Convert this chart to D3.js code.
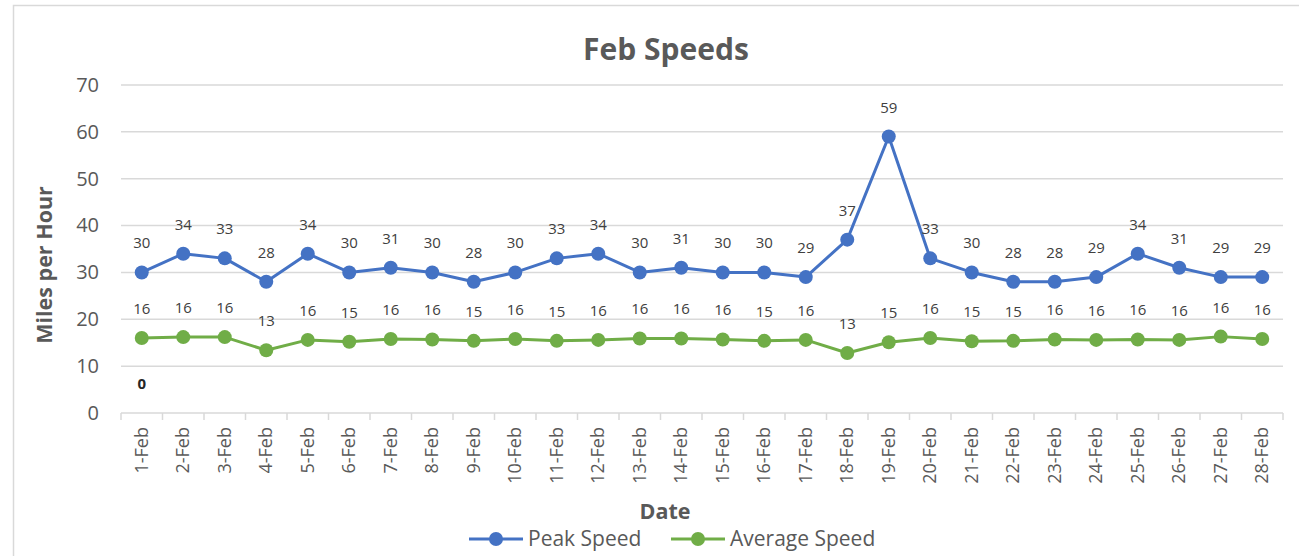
<!DOCTYPE html>
<html>
<head>
<meta charset="utf-8">
<script src="https://cdn.jsdelivr.net/npm/d3@7"></script>
<style>
  body { margin: 0; background: #fff; }
  text { font-family: "Open Sans", "Noto Sans", sans-serif; }
</style>
</head>
<body>
<div id="chart"></div>
<script>
/**
 * Chart data
 */
// dates on the x axis
var dates = ["1-Feb","2-Feb","3-Feb","4-Feb","5-Feb","6-Feb","7-Feb","8-Feb","9-Feb","10-Feb",
  "11-Feb","12-Feb","13-Feb","14-Feb","15-Feb","16-Feb","17-Feb","18-Feb","19-Feb","20-Feb",
  "21-Feb","22-Feb","23-Feb","24-Feb","25-Feb","26-Feb","27-Feb","28-Feb"];
// peak speed per day
var peakSpeed = [30,34,33,28,34,30,31,30,28,30,33,34,30,31,30,30,29,37,59,33,30,28,28,29,34,31,29,29];
// average speed per day
var avgSpeed = [16.0,16.2,16.2,13.4,15.6,15.2,15.8,15.7,15.4,15.8,15.4,15.6,15.9,15.9,15.7,15.4,15.6,
  12.8,15.1,16.0,15.3,15.4,15.7,15.6,15.7,15.6,16.3,15.8];
// stray third series: only a label, no line
var strayDates = ["1-Feb"];
var strayValues = [0];
// y axis ticks
var yTicks = [0,10,20,30,40,50,60,70];

var series = [
  {name: "Peak Speed", values: peakSpeed, color: "#4472C4"},
  {name: "Average Speed", values: avgSpeed, color: "#70AD47"}
];

/**
 * Chart setup
 */
var svgWidth = 1299;
var svgHeight = 556;
var margin = {top: 85, right: 16, bottom: 143, left: 121};

var svg = d3.select("#chart")
  .append("svg")
  .attr("width", svgWidth)
  .attr("height", svgHeight);

// light chart frame
svg.append("rect")
  .attr("x", 13.5).attr("y", 5.5)
  .attr("width", svgWidth).attr("height", svgHeight)
  .attr("fill", "none")
  .attr("stroke", "#d9d9d9")
  .attr("stroke-width", 1.5);

var xScale = d3.scaleBand()
  .domain(dates)
  .range([margin.left, svgWidth - margin.right]);

var yScale = d3.scaleLinear()
  .domain([0, 70])
  .range([svgHeight - margin.bottom, margin.top]);

var cx = d => xScale(d) + xScale.bandwidth() / 2;

// gridlines
svg.append("g")
  .selectAll("line")
  .data(yTicks.filter(t => t > 0))
  .enter().append("line")
  .attr("x1", margin.left)
  .attr("x2", svgWidth - margin.right)
  .attr("y1", d => yScale(d))
  .attr("y2", d => yScale(d))
  .attr("stroke", "#d9d9d9")
  .attr("stroke-width", 1.5);

// y axis labels
var yAxis = d3.axisLeft(yScale)
  .tickValues(yTicks)
  .tickSize(0)
  .tickPadding(22);
var yG = svg.append("g")
  .attr("transform", `translate(${margin.left}, 0)`)
  .call(yAxis);
yG.select(".domain").remove();
yG.selectAll("text")
  .attr("fill", "#595959")
  .style("font-size", "20px");

// x axis with ticks between categories
var xG = svg.append("g")
  .attr("transform", `translate(0, ${yScale(0)})`);
xG.append("line")
  .attr("x1", margin.left)
  .attr("x2", svgWidth - margin.right)
  .attr("stroke", "#d9d9d9")
  .attr("stroke-width", 1.5);
xG.selectAll(".tick")
  .data(dates.concat(["end"]))
  .enter().append("line")
  .attr("x1", (d, i) => i < dates.length ? xScale(d) : svgWidth - margin.right)
  .attr("x2", (d, i) => i < dates.length ? xScale(d) : svgWidth - margin.right)
  .attr("y1", 0).attr("y2", 7)
  .attr("stroke", "#d9d9d9")
  .attr("stroke-width", 1.5);
xG.selectAll(".xlabel")
  .data(dates)
  .enter().append("text")
  .attr("transform", d => `translate(${cx(d) + 6}, 14) rotate(-90)`)
  .attr("text-anchor", "end")
  .attr("fill", "#595959")
  .style("font-size", "18px")
  .text(d => d);

// lines, markers and data labels
var line = d3.line()
  .x((d, i) => cx(dates[i]))
  .y(d => yScale(d));

series.forEach(s => {
  var g = svg.append("g");
  g.append("path")
    .datum(s.values)
    .attr("d", line)
    .attr("fill", "none")
    .attr("stroke", s.color)
    .attr("stroke-width", 3)
    .attr("stroke-linejoin", "round");
  g.selectAll("circle")
    .data(s.values)
    .enter().append("circle")
    .attr("cx", (d, i) => cx(dates[i]))
    .attr("cy", d => yScale(d))
    .attr("r", 7)
    .attr("fill", s.color);
  g.selectAll("text")
    .data(s.values)
    .enter().append("text")
    .attr("x", (d, i) => cx(dates[i]))
    .attr("y", d => yScale(d) - 24)
    .attr("text-anchor", "middle")
    .attr("fill", "#404040")
    .style("font-size", "15px")
    .text(d => Math.round(d));
});

// stray label for the empty series
svg.selectAll(".stray")
  .data(strayValues)
  .enter().append("text")
  .attr("x", (d, i) => cx(strayDates[i]))
  .attr("y", d => yScale(d) - 24)
  .attr("text-anchor", "middle")
  .attr("fill", "#262626")
  .style("font-size", "15px")
  .style("font-weight", "bold")
  .text(d => d);

// title
svg.append("text")
  .attr("x", 666).attr("y", 60)
  .attr("text-anchor", "middle")
  .attr("fill", "#595959")
  .style("font-size", "30px")
  .style("font-weight", "bold")
  .text("Feb Speeds");

// axis titles
svg.append("text")
  .attr("transform", "translate(52, 265) rotate(-90)")
  .attr("text-anchor", "middle")
  .attr("fill", "#595959")
  .style("font-size", "21.5px")
  .style("font-weight", "bold")
  .text("Miles per Hour");

svg.append("text")
  .attr("x", 665).attr("y", 519)
  .attr("text-anchor", "middle")
  .attr("fill", "#595959")
  .style("font-size", "21.5px")
  .style("font-weight", "bold")
  .text("Date");

// legend
var legendX = [469, 671];
var legend = svg.selectAll(".legend")
  .data(series)
  .enter().append("g")
  .attr("transform", (d, i) => `translate(${legendX[i]}, 539)`);
legend.append("line")
  .attr("x1", 0).attr("x2", 54)
  .attr("stroke", d => d.color)
  .attr("stroke-width", 3);
legend.append("circle")
  .attr("cx", 27).attr("r", 7)
  .attr("fill", d => d.color);
legend.append("text")
  .attr("x", 59).attr("y", 7)
  .attr("fill", "#595959")
  .style("font-size", "21px")
  .text(d => d.name);
</script>
</body>
</html>
